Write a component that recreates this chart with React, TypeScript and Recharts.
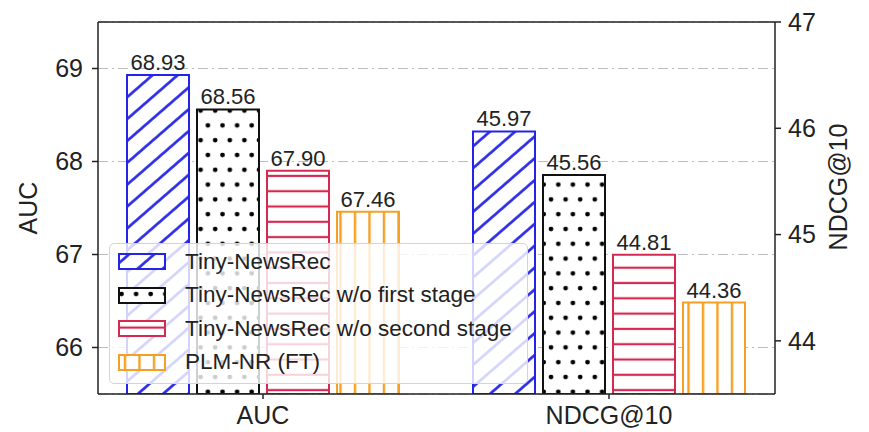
import { ComposedChart, Bar, XAxis, YAxis, CartesianGrid, Legend, LabelList, ReferenceLine } from 'recharts';

const groups = ['AUC', 'NDCG@10'];
const methods = [
  'Tiny-NewsRec',
  'Tiny-NewsRec w/o first stage',
  'Tiny-NewsRec w/o second stage',
  'PLM-NR (FT)',
];
const aucValues = [68.93, 68.56, 67.9, 67.46];
const ndcgValues = [45.97, 45.56, 44.81, 44.36];
const aucTicks = [66, 67, 68, 69];
const ndcgTicks = [44, 45, 46, 47];

const FONT = '"Liberation Sans", Arial, Helvetica, sans-serif';
const BLUE = '#2424e8';
const RED = '#d42a52';
const ORANGE = '#f5a024';
const INK = '#222';

const looks = [
  { fill: 'url(#pHatch)', stroke: BLUE },
  { fill: 'url(#pDots)', stroke: '#111' },
  { fill: 'url(#pHoriz)', stroke: RED },
  { fill: 'url(#pVert)', stroke: ORANGE },
];

// one row per metric group; each metric's bars only carry values in their own group
const data = groups.map((group, gi) => {
  const row: Record<string, string | number | null> = { group };
  methods.forEach((_, i) => {
    row[`auc${i}`] = gi === 0 ? aucValues[i] : null;
    row[`ndcg${i}`] = gi === 1 ? ndcgValues[i] : null;
  });
  return row;
});

const fmt = (v: any) => (v == null ? '' : Number(v).toFixed(2));

const LegendBox = ({ payload }: any) => {
  const items = (payload || [])
    .filter((p: any) => String(p.dataKey).startsWith('auc'))
    .sort((a: any, b: any) => methods.indexOf(a.value) - methods.indexOf(b.value));
  return (
    <div
      style={{
        background: 'rgba(255,255,255,0.8)',
        border: '1px solid #d4d4d4',
        borderRadius: 5,
        padding: '1px 8px 4px 8px',
        width: 419,
        boxSizing: 'border-box',
      }}
    >
      {items.map((p: any) => {
        const look = looks[methods.indexOf(p.value)] || looks[0];
        return (
          <div key={p.value} style={{ display: 'flex', alignItems: 'center', height: 33.5 }}>
            <svg width={48} height={17} style={{ display: 'block' }}>
              <rect x={1} y={1} width={46} height={15} fill={look.fill} stroke={look.stroke} strokeWidth={2} />
            </svg>
            <span style={{ marginLeft: 19, fontSize: 22.5, fontFamily: FONT, color: INK, whiteSpace: 'nowrap' }}>
              {p.value}
            </span>
          </div>
        );
      })}
    </div>
  );
};

const axisTitle = (text: string, dx: number, y: number) => (props: any) => {
  const vb = props.viewBox || {};
  const x = (vb.x || 0) + dx;
  return (
    <text
      x={x}
      y={y}
      transform={`rotate(-90, ${x}, ${y})`}
      textAnchor="middle"
      dominantBaseline="central"
      fontSize={25}
      fontFamily={FONT}
      fill={INK}
    >
      {text}
    </text>
  );
};

export default function App() {
  const tick = { fontSize: 25, fill: INK, fontFamily: FONT };
  const line = { stroke: INK, strokeWidth: 1.5 };
  return (
    <div style={{ position: 'absolute', left: 0, top: 0, background: '#fff' }}>
      <ComposedChart
        width={869}
        height={432}
        data={data}
        margin={{ top: 22, right: 0, bottom: 0, left: 0 }}
        barSize={62}
        barGap={8}
      >
        <defs>
          <pattern id="pHatch" patternUnits="userSpaceOnUse" width="16.5" height="16.5" patternTransform="rotate(49)">
            <rect width="16.5" height="16.5" fill="#fff" />
            <line x1="8.25" y1="0" x2="8.25" y2="16.5" stroke={BLUE} strokeWidth="2.6" />
          </pattern>
          <pattern id="pDots" patternUnits="userSpaceOnUse" width="14.6" height="29.6">
            <rect width="14.6" height="29.6" fill="#fff" />
            <circle cx="3.5" cy="7" r="2.4" fill="#000" />
            <circle cx="10.8" cy="21.8" r="2.4" fill="#000" />
          </pattern>
          <pattern id="pHoriz" patternUnits="userSpaceOnUse" width="10" height="15.3">
            <rect width="10" height="15.3" fill="#fff" />
            <line x1="0" y1="7.6" x2="10" y2="7.6" stroke={RED} strokeWidth="2.2" />
          </pattern>
          <pattern id="pVert" patternUnits="userSpaceOnUse" width="14.5" height="10">
            <rect width="14.5" height="10" fill="#fff" />
            <line x1="7" y1="0" x2="7" y2="10" stroke={ORANGE} strokeWidth="2.4" />
          </pattern>
        </defs>
        <CartesianGrid
          xAxisId="auc"
          yAxisId="left"
          vertical={false}
          stroke="#bdbdbd"
          strokeWidth={1.2}
          strokeDasharray="10 4 2 4"
        />
        <XAxis
          xAxisId="auc"
          dataKey="group"
          height={38}
          padding={{ left: -8, right: -7 }}
          tick={tick}
          tickSize={5}
          tickMargin={7}
          axisLine={line}
          tickLine={line}
        />
        <XAxis xAxisId="ndcg" dataKey="group" hide padding={{ left: -8, right: -7 }} />
        <YAxis
          yAxisId="left"
          width={98}
          domain={[65.5, 69.5]}
          ticks={aucTicks}
          interval={0}
          allowDataOverflow
          tick={tick}
          tickSize={6}
          tickMargin={9}
          axisLine={line}
          tickLine={line}
          label={axisTitle('AUC', 28, 208)}
        />
        <YAxis
          yAxisId="right"
          orientation="right"
          width={94}
          domain={[43.5, 47]}
          ticks={ndcgTicks}
          interval={0}
          allowDataOverflow
          tick={tick}
          tickSize={6}
          tickMargin={7}
          axisLine={line}
          tickLine={line}
          label={axisTitle('NDCG@10', 63, 187)}
        />
        <ReferenceLine xAxisId="auc" yAxisId="left" y={69.5} stroke={INK} strokeWidth={1.5} />
        {methods.map((m, i) => (
          <Bar
            key={`auc${i}`}
            xAxisId="auc"
            yAxisId="left"
            dataKey={`auc${i}`}
            name={m}
            fill={looks[i].fill}
            stroke={looks[i].stroke}
            strokeWidth={2}
            isAnimationActive={false}
          >
            <LabelList dataKey={`auc${i}`} position="top" offset={5} formatter={fmt} fill={INK} fontSize={22} fontFamily={FONT} />
          </Bar>
        ))}
        {methods.map((m, i) => (
          <Bar
            key={`ndcg${i}`}
            xAxisId="ndcg"
            yAxisId="right"
            dataKey={`ndcg${i}`}
            name={m}
            legendType="none"
            fill={looks[i].fill}
            stroke={looks[i].stroke}
            strokeWidth={2}
            isAnimationActive={false}
          >
            <LabelList dataKey={`ndcg${i}`} position="top" offset={5} formatter={fmt} fill={INK} fontSize={22} fontFamily={FONT} />
          </Bar>
        ))}
        <Legend
          layout="vertical"
          align="center"
          verticalAlign="middle"
          wrapperStyle={{ left: 109, top: 243, width: 419 }}
          content={LegendBox}
        />
      </ComposedChart>
    </div>
  );
}
